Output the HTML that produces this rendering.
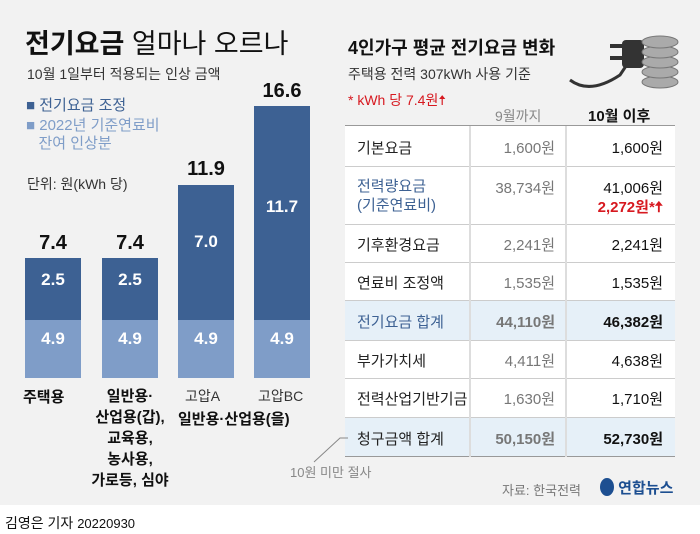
<!DOCTYPE html><html><head><meta charset="utf-8"><style>
body{margin:0;width:700px;height:534px;background:#fff;font-family:"Liberation Sans","Noto Sans CJK KR",sans-serif;position:relative;overflow:hidden}
.bg{position:absolute;left:0;top:0;width:700px;height:505px;background:#f2f2f2}
.a{position:absolute;white-space:nowrap}
.bar{position:absolute;width:56px}
.d{background:#3d6193}.l{background:#7f9dc8}
.bv{position:absolute;width:56px;text-align:center;color:#fff;font-size:17px;font-weight:bold}
.tv{position:absolute;width:80px;text-align:center;font-size:20px;font-weight:bold;color:#111}
.row{position:absolute;left:345px;width:330px;border-bottom:1px solid #ccc;background:#fff}
.row.h{background:#e6f0f8}
.c1,.c2,.c3{position:absolute;font-size:15px}
.c1{left:12px;color:#222}.c2{right:120px;color:#777;text-align:right}.c3{right:12px;color:#111;text-align:right}
.vl{position:absolute;top:126px;height:331px;width:2px;background:#ddd}
</style></head><body>
<div class="bg"></div>
<div class="a" style="left:25px;top:22px;font-size:27px;color:#111"><b>전기요금</b> 얼마나 오르나</div>
<div class="a" style="left:27px;top:64px;font-size:14px;color:#333">10월 1일부터 적용되는 인상 금액</div>
<div class="a" style="left:26px;top:94px;font-size:15px;color:#3d6193">■ 전기요금 조정</div>
<div class="a" style="left:26px;top:117px;font-size:15px;color:#7f9dc8;line-height:18px">■ 2022년 기준연료비<br>&nbsp;&nbsp;&nbsp;잔여 인상분</div>
<div class="a" style="left:27px;top:174px;font-size:14px;color:#333">단위: 원(kWh 당)</div>

<div class="bar d" style="left:25px;top:258px;height:62px"></div><div class="bar l" style="left:25px;top:320px;height:58px"></div>
<div class="bar d" style="left:102px;top:258px;height:62px"></div><div class="bar l" style="left:102px;top:320px;height:58px"></div>
<div class="bar d" style="left:178px;top:185px;height:135px"></div><div class="bar l" style="left:178px;top:320px;height:58px"></div>
<div class="bar d" style="left:254px;top:106px;height:214px"></div><div class="bar l" style="left:254px;top:320px;height:58px"></div>
<div class="tv" style="left:13px;top:232px">7.4</div><div class="tv" style="left:90px;top:232px">7.4</div>
<div class="tv" style="left:166px;top:158px">11.9</div><div class="tv" style="left:242px;top:80px">16.6</div>
<div class="bv" style="left:25px;top:270px">2.5</div><div class="bv" style="left:102px;top:270px">2.5</div>
<div class="bv" style="left:178px;top:232px">7.0</div><div class="bv" style="left:254px;top:197px">11.7</div>
<div class="bv" style="left:25px;top:329px">4.9</div><div class="bv" style="left:102px;top:329px">4.9</div>
<div class="bv" style="left:178px;top:329px">4.9</div><div class="bv" style="left:254px;top:329px">4.9</div>
<div class="a" style="left:23px;top:386px;font-size:15px;font-weight:bold;color:#111">주택용</div>
<div class="a" style="left:70px;top:386px;width:120px;text-align:center;font-size:15px;font-weight:bold;color:#111;line-height:21px">일반용·<br>산업용(갑),<br>교육용,<br>농사용,<br>가로등, 심야</div>
<div class="a" style="left:185px;top:386px;font-size:14px;color:#333">고압A</div>
<div class="a" style="left:258px;top:386px;font-size:14px;color:#333">고압BC</div>
<div class="a" style="left:178px;top:408px;font-size:15px;font-weight:bold;color:#111">일반용·산업용(을)</div>

<div class="a" style="left:348px;top:34px;font-size:18px;font-weight:bold;color:#111">4인가구 평균 전기요금 변화</div>
<div class="a" style="left:348px;top:64px;font-size:14px;color:#333">주택용 전력 307kWh 사용 기준</div>
<div class="a" style="left:348px;top:90px;font-size:14px;color:#d71920">* kWh 당 7.4원🠅</div>
<svg class="a" style="left:560px;top:20px" width="120" height="75"><path d="M10 60 Q30 75 60 55 L70 40" stroke="#333" stroke-width="3" fill="none"/><rect x="62" y="20" width="22" height="28" rx="4" fill="#333"/><rect x="50" y="24" width="14" height="4" fill="#333"/><rect x="50" y="36" width="14" height="4" fill="#333"/><g fill="#aaa" stroke="#777"><ellipse cx="100" cy="62" rx="18" ry="6"/><ellipse cx="100" cy="52" rx="18" ry="6"/><ellipse cx="100" cy="42" rx="18" ry="6"/><ellipse cx="100" cy="32" rx="18" ry="6"/><ellipse cx="100" cy="22" rx="18" ry="6"/></g></svg>
<div class="a" style="left:495px;top:106px;font-size:14px;color:#888">9월까지</div>
<div class="a" style="left:588px;top:105px;font-size:15px;font-weight:bold;color:#111">10월 이후</div>
<div style="position:absolute;left:345px;top:125px;width:330px;height:1px;background:#999"></div>
<div class="row" style="top:126px;height:40px"><span class="c1" style="top:11px">기본요금</span><span class="c2" style="top:11px">1,600원</span><span class="c3" style="top:11px">1,600원</span></div>
<div class="row" style="top:167px;height:57px"><span class="c1" style="top:10px;color:#3d6193;line-height:19px">전력량요금<br>(기준연료비)</span><span class="c2" style="top:10px">38,734원</span><span class="c3" style="top:10px">41,006원</span><span class="c3" style="top:29px;color:#d71920;font-weight:bold">2,272원*🠅</span></div>
<div class="row" style="top:225px;height:37px"><span class="c1" style="top:9px">기후환경요금</span><span class="c2" style="top:9px">2,241원</span><span class="c3" style="top:9px">2,241원</span></div>
<div class="row" style="top:263px;height:37px"><span class="c1" style="top:9px">연료비 조정액</span><span class="c2" style="top:9px">1,535원</span><span class="c3" style="top:9px">1,535원</span></div>
<div class="row h" style="top:301px;height:39px"><span class="c1" style="top:10px;color:#3d6193">전기요금 합계</span><span class="c2" style="top:10px;font-weight:bold">44,110원</span><span class="c3" style="top:10px;font-weight:bold">46,382원</span></div>
<div class="row" style="top:341px;height:37px"><span class="c1" style="top:9px">부가가치세</span><span class="c2" style="top:9px">4,411원</span><span class="c3" style="top:9px">4,638원</span></div>
<div class="row" style="top:379px;height:38px"><span class="c1" style="top:9px">전력산업기반기금</span><span class="c2" style="top:9px">1,630원</span><span class="c3" style="top:9px">1,710원</span></div>
<div class="row h" style="top:418px;height:38px;border-bottom:1px solid #999"><span class="c1" style="top:10px">청구금액 합계</span><span class="c2" style="top:10px;font-weight:bold">50,150원</span><span class="c3" style="top:10px;font-weight:bold">52,730원</span></div>
<div class="vl" style="left:469px"></div><div class="vl" style="left:565px"></div>
<svg class="a" style="left:300px;top:430px" width="50" height="35"><path d="M48 8 L40 8 L14 32" stroke="#888" fill="none"/></svg>
<div class="a" style="left:290px;top:462px;font-size:13px;color:#888">10원 미만 절사</div>
<div class="a" style="left:502px;top:480px;font-size:13px;color:#777">자료: 한국전력</div>
<div class="a" style="left:600px;top:477px;font-size:15px;font-weight:bold;color:#1d4f91"><span style="display:inline-block;width:14px;height:18px;border-radius:50%;background:#1d4f91;vertical-align:-3px"></span> 연합뉴스</div>
<div class="a" style="left:5px;top:513px;font-size:14px;color:#111">김영은 기자 <span style="font-size:13px">20220930</span></div>
</body></html>
